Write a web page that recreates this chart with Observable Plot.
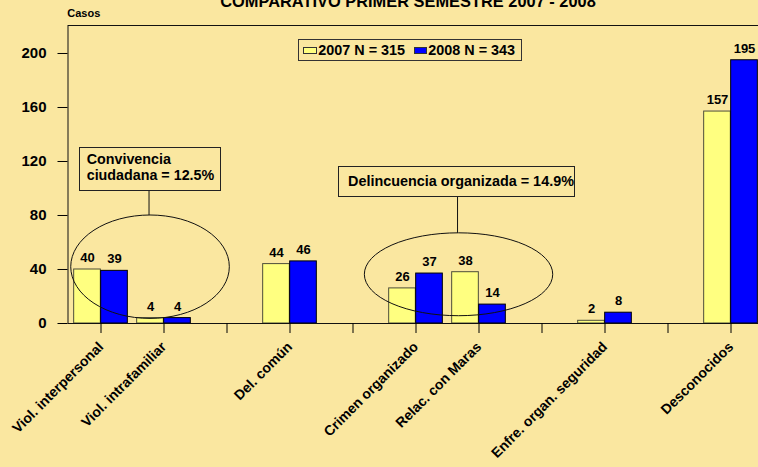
<!DOCTYPE html>
<html><head><meta charset="utf-8">
<script src="https://cdn.jsdelivr.net/npm/d3@7"></script>
<script src="https://cdn.jsdelivr.net/npm/@observablehq/plot@0.6"></script>
<style>
html,body{margin:0;padding:0;background:#FAE7A0;overflow:hidden;}
#wrap{position:relative;width:758px;height:467px;overflow:hidden;font-family:"Liberation Sans",Arial,sans-serif;font-weight:bold;color:#000;}
#wrap svg{position:absolute;left:0;top:0;}
#wrap svg text{font-weight:bold;}
.abs{position:absolute;white-space:nowrap;}
#title{left:0;width:816px;text-align:center;top:-7.5px;font-size:16.4px;line-height:16px;}
#casos{left:67.3px;top:8.4px;font-size:11px;line-height:11px;}
#legend{left:298.3px;top:39px;width:224px;height:22px;border:1px solid #333;box-sizing:border-box;}
#legend .sw{position:absolute;top:6.7px;width:13.3px;height:7.5px;border:1px solid #333;box-sizing:border-box;}
#legend .lt{position:absolute;top:3.3px;font-size:14.4px;line-height:14px;}
.note{border:1px solid #222;box-sizing:border-box;line-height:16px;}
#note1{left:79.3px;top:146.7px;width:141.4px;height:44.3px;padding-left:6.4px;padding-top:3.34px;font-size:14.3px;white-space:normal;}
#note2{left:338.3px;top:165.7px;width:236.7px;height:31px;padding-left:8.7px;padding-top:6.3px;font-size:14.4px;}
</style>
</head>
<body>
<div id="wrap"></div>
<script>
// ---- data ----
const titleText = "COMPARATIVO PRIMER SEMESTRE 2007 - 2008";
const yLabel = "Casos";
const slotLabels = ["Viol. interpersonal","Viol. intrafamiliar"," ","Del. común","  ","Crimen organizado","Relac. con Maras","   ","Enfre. organ. seguridad","    ","Desconocidos"];
const categories = ["Viol. interpersonal","Viol. intrafamiliar","Del. común","Crimen organizado","Relac. con Maras","Enfre. organ. seguridad","Desconocidos"];
const values2007 = [40,4,44,26,38,2,157];
const values2008 = [39,4,46,37,14,8,195];
const seriesLabels = ["2007 N = 315","2008 N = 343"];
const seriesColors = ["#FFFF80","#0000FF"];
const yTicks = [0,40,80,120,160,200];
const noteTexts = [["Convivencia","ciudadana = 12.5%"],["Delincuencia organizada = 14.9%"]];
// annotation ellipses in data space: centre (slot units, cases), radii, box-bottom value
const noteShapes = [
  {cx: 1.303, cy: 41.7, rx: 1.252, ry: 38.3, boxBottom: 97.8},
  {cx: 6.174, cy: 36.1, rx: 1.487, ry: 30.7, boxBottom: 93.6}
];

// ---- layout ----
const W = 758, H = 467;
const mL = 67.5, mR = -6.2, mT = 25, mB = 144;
const bw = (W - mL - mR) / slotLabels.length;
const barW = 27;

const d07 = categories.map((c, i) => ({c, v: values2007[i]}));
const d08 = categories.map((c, i) => ({c, v: values2008[i]}));

const plot = Plot.plot({
  width: W, height: H,
  marginLeft: mL, marginRight: mR, marginTop: mT, marginBottom: mB,
  style: {background: "transparent", fontFamily: "Liberation Sans, Arial, sans-serif", fontWeight: "bold", color: "#000", overflow: "visible"},
  x: {domain: slotLabels, padding: 0, label: null},
  y: {domain: [0, 220.74], label: null},
  marks: [
    Plot.barY(d07, {x: "c", y: "v", fill: seriesColors[0], stroke: "#4d4d3a", strokeWidth: 1, insetLeft: bw/2 - barW, insetRight: bw/2}),
    Plot.barY(d08, {x: "c", y: "v", fill: seriesColors[1], stroke: "#000", strokeWidth: 1, insetLeft: bw/2, insetRight: bw/2 - barW}),
    Plot.text(d07, {x: "c", y: "v", text: d => String(d.v), dx: -barW/2, dy: -7.5, lineAnchor: "bottom", fontSize: 13, fontWeight: "bold", fill: "#000"}),
    Plot.text(d08, {x: "c", y: "v", text: d => String(d.v), dx: barW/2, dy: -7.5, lineAnchor: "bottom", fontSize: 13, fontWeight: "bold", fill: "#000"}),
    Plot.frame({stroke: "#111"}),
    Plot.axisY({ticks: yTicks, tickSize: 10, tickPadding: 11.5, fontSize: 15, fontWeight: "bold", label: null}),
    Plot.axisX({tickSize: 10, tickPadding: 11, tickRotate: -45, fontSize: 14, fontWeight: "bold", label: null})
  ]
});

const wrap = document.getElementById("wrap");
wrap.appendChild(plot);

// annotation ellipses + connectors
const ys = plot.scale("y");
const sx = s => mL + s * bw;
const svg = d3.select(plot);
const g = svg.append("g").attr("fill", "none").attr("stroke", "#111").attr("stroke-width", 1);
noteShapes.forEach(n => {
  const cx = sx(n.cx), cy = ys.apply(n.cy);
  const rx = n.rx * bw, ry = ys.apply(0) - ys.apply(n.ry);
  g.append("ellipse").attr("cx", cx).attr("cy", cy).attr("rx", rx).attr("ry", ry);
  g.append("line").attr("x1", cx - 1).attr("x2", cx - 1).attr("y1", ys.apply(n.boxBottom)).attr("y2", cy - ry);
});

// texts: title, y label, legend, notes
function div(id, cls, html) {
  const d = document.createElement("div");
  if (id) d.id = id;
  d.className = cls;
  if (html != null) d.textContent = html;
  wrap.appendChild(d);
  return d;
}
div("title", "abs", titleText);
div("casos", "abs", yLabel);
const lg = div("legend", "abs");
const swLeft = [4, 114.7], txtLeft = [19, 129];
seriesLabels.forEach((s, i) => {
  const sw = document.createElement("div");
  sw.className = "sw"; sw.style.left = swLeft[i] + "px"; sw.style.background = seriesColors[i];
  lg.appendChild(sw);
  const t = document.createElement("div");
  t.className = "lt"; t.style.left = txtLeft[i] + "px"; t.textContent = s;
  lg.appendChild(t);
});
const n1 = div("note1", "abs note");
n1.innerHTML = noteTexts[0].join("<br>");
div("note2", "abs note", noteTexts[1][0]);
</script>
</body></html>
